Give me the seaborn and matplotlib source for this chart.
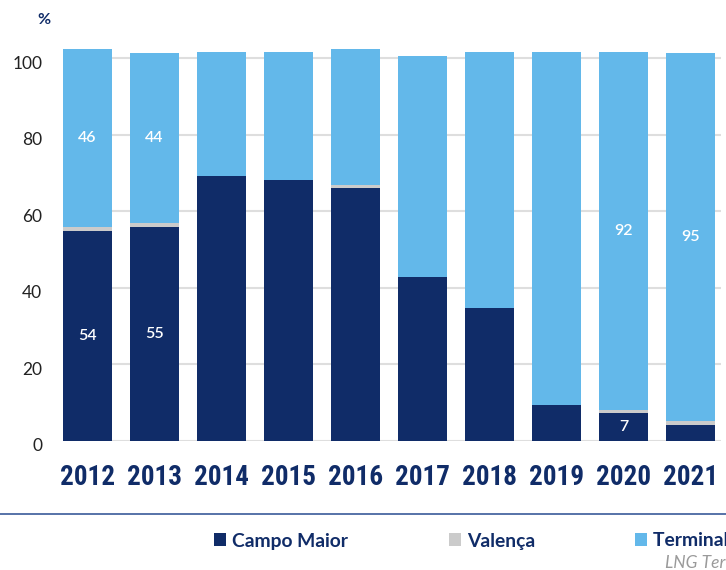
import matplotlib
matplotlib.use("Agg")
import matplotlib.pyplot as plt
import matplotlib.transforms as mtransforms
from matplotlib import font_manager
from matplotlib.patches import Patch
from matplotlib.lines import Line2D
import seaborn as sns
import pandas as pd
import numpy as np

# ---------------- data ----------------
years = ["2012", "2013", "2014", "2015", "2016", "2017", "2018", "2019", "2020", "2021"]
campo_maior = [54.8, 55.9, 69.2, 68.1, 66.0, 42.8, 34.6, 9.3, 7.2, 4.1]
valenca = [1.1, 1.0, 0.0, 0.0, 0.8, 0.0, 0.0, 0.0, 0.8, 1.0]
terminal = [46.6, 44.5, 32.4, 33.5, 35.6, 57.8, 67.0, 92.3, 93.6, 96.3]
campo_labels = ["54", "55", "", "", "", "", "", "", "7", ""]
terminal_labels = ["46", "44", "", "", "", "", "", "", "92", "95"]
y_ticks = [0, 20, 40, 60, 80, 100]
series_names = ["Campo Maior", "Valença", "Terminal de GNL de Sines"]
source_text = "LNG Terminal de Sines"

NAVY = "#102c68"
GRAY = "#cbcbcb"
BLUE = "#63b8ea"

df = pd.DataFrame({"year": years, "campo": campo_maior, "valenca": valenca, "terminal": terminal})

# ---------------- style ----------------
sns.set_theme(style="white")
plt.rcParams["font.family"] = ["Lato", "DejaVu Sans"]

# condensed bold font for year labels
cands = []
for f in font_manager.fontManager.ttflist:
    nm = f.name.lower()
    st = str(f.stretch).lower()
    if ("condensed" in nm or "narrow" in nm or "condensed" in st) and str(f.weight) in ("bold", "700", "heavy", "800", "black", "900", "semibold", "600"):
        if "italic" in str(f.style).lower() or "oblique" in str(f.style).lower():
            continue
        cands.append(f)
pref = ["roboto condensed", "liberation sans narrow", "open sans condensed", "noto sans condensed", "dejavu sans condensed"]
def rank(f):
    nm = f.name.lower()
    for i, p in enumerate(pref):
        if p in nm:
            return i
    return len(pref)
cands.sort(key=rank)
if cands:
    year_fp = font_manager.FontProperties(fname=cands[0].fname, size=19.5)
else:
    year_fp = font_manager.FontProperties(family="DejaVu Sans", weight="bold", stretch="condensed", size=17)

fig = plt.figure(figsize=(7.26, 5.70), dpi=100)
ax = fig.add_axes([63 / 726, 1 - 440.5 / 570, (721 - 63) / 726, (440.5 - 39.2) / 570])

bottom_v = np.array(campo_maior)
bottom_t = np.array(campo_maior) + np.array(valenca)

sns.barplot(data=df, x="year", y="campo", color=NAVY, width=0.73, ax=ax, saturation=1, linewidth=0)
sns.barplot(data=df, x="year", y="valenca", color=GRAY, width=0.73, ax=ax, saturation=1, linewidth=0, bottom=bottom_v)
sns.barplot(data=df, x="year", y="terminal", color=BLUE, width=0.73, ax=ax, saturation=1, linewidth=0, bottom=bottom_t)

ax.bar_label(ax.containers[0], labels=campo_labels, label_type="center", color="white", fontsize=11.5, fontweight="semibold")
ax.bar_label(ax.containers[2], labels=terminal_labels, label_type="center", color="white", fontsize=11.5, fontweight="semibold")

ax.set_xlim(-0.366, 9.455)
ax.set_ylim(0, 105)
ax.set_yticks(y_ticks)
ax.set_yticklabels([str(v) for v in y_ticks], fontsize=12.5, color="#222222")
ax.yaxis.grid(True, color="#dedede", linewidth=1.5)
ax.set_axisbelow(True)
for s in ax.spines.values():
    s.set_visible(False)
ax.tick_params(axis="y", length=0, pad=15)
ax.tick_params(axis="x", length=0, pad=17)
ax.set_xlabel("")
ax.set_ylabel("")
for lab in ax.get_xticklabels():
    lab.set_fontproperties(year_fp)
    lab.set_color(NAVY)
off = mtransforms.ScaledTranslation(0, -3 / 72, fig.dpi_scale_trans)
for lab in ax.get_yticklabels():
    lab.set_transform(lab.get_transform() + off)

# percent sign
fig.text(43.5 / 726, 1 - 20 / 570, "%", color=NAVY, fontsize=11.5, fontweight="bold", ha="center", va="center")

# separator line
fig.add_artist(Line2D([0, 1], [1 - 514 / 570, 1 - 514 / 570], color="#3a5a9a", linewidth=1.2, transform=fig.transFigure))

# legend
handles = [Patch(facecolor=c, edgecolor="none") for c in (NAVY, GRAY, BLUE)]
leg = fig.legend(handles, series_names, loc="center left", bbox_to_anchor=(214 / 726, 1 - 541 / 570),
                 ncol=3, frameon=False, borderpad=0, borderaxespad=0, handlelength=0.62, handleheight=0.62,
                 handletextpad=0.32, columnspacing=5.2, prop={"size": 13.9, "weight": "bold"})
for t in leg.get_texts():
    t.set_color(NAVY)

fig.text(665 / 726, 1 - 563 / 570, source_text, color="#9a9a9a", fontsize=12.5, style="italic", ha="left", va="center")

fig.savefig("out.png", dpi=100)
